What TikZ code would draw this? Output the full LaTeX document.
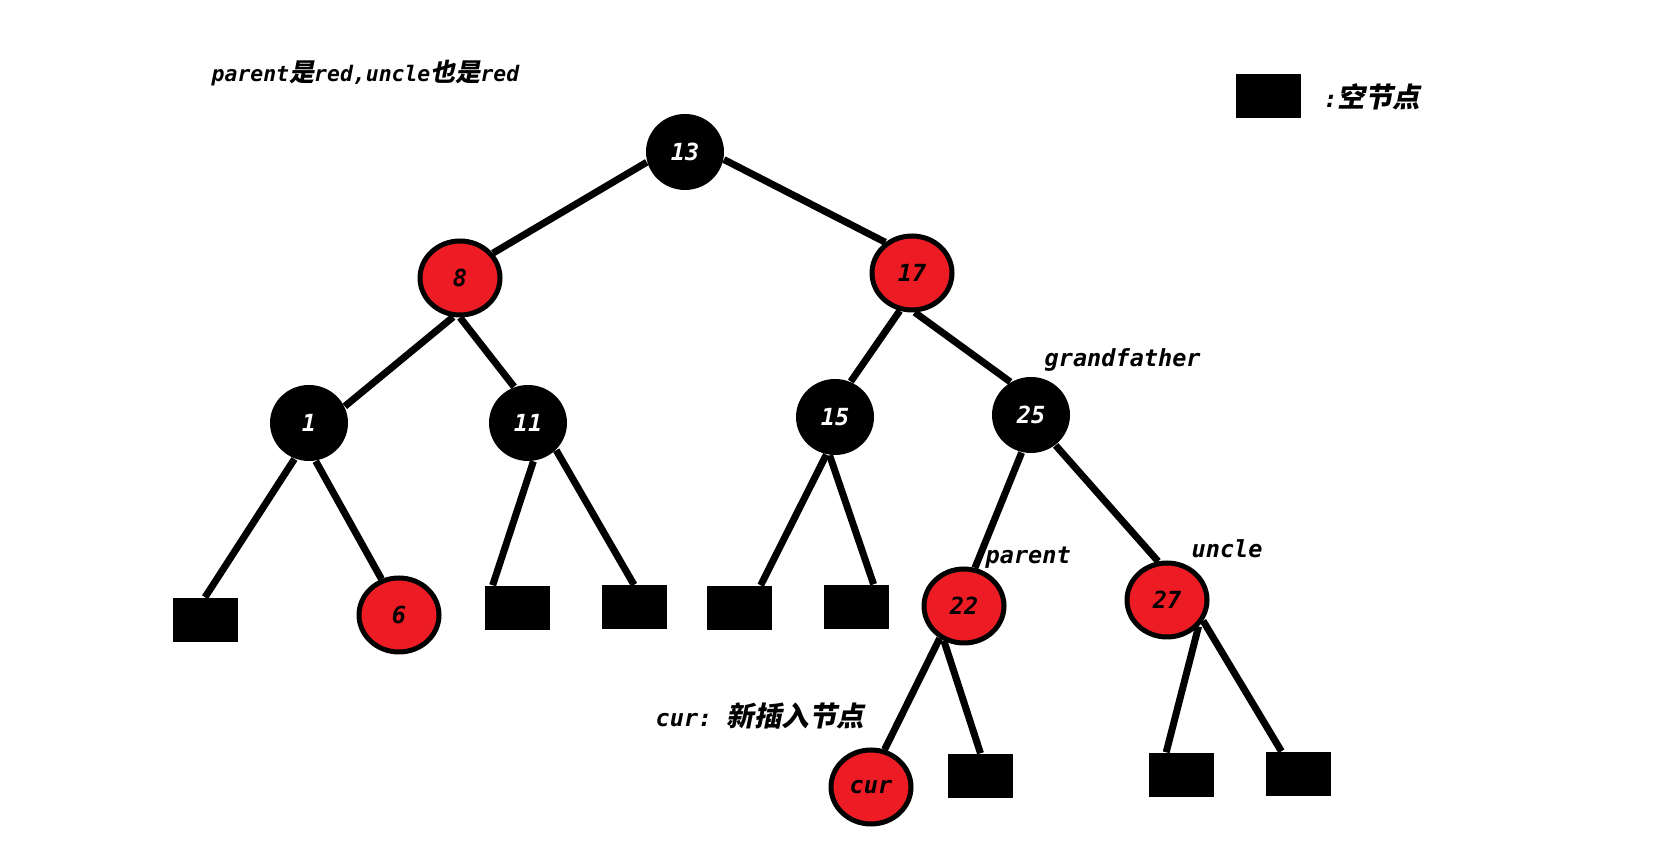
\documentclass[tikz,border=0pt]{standalone}
\usepackage{fontspec}
\usepackage{tikz}
\usetikzlibrary{shapes.geometric}
\setmonofont{DejaVu Sans Mono}
\newfontfamily\cjk[FakeSlant=0.2,Scale=1.17]{Noto Sans CJK SC}
\newcommand{\zh}[1]{{\cjk\bfseries #1}}
\definecolor{paintred}{HTML}{ED1C24}

\begin{document}
\begin{tikzpicture}[scale=1,
    txt/.style={font=\ttfamily\bfseries\itshape\fontsize{6.7}{8}\selectfont, inner sep=0pt},
    blacknode/.style={ellipse, fill=black, text=white, minimum width=0.78cm, minimum height=0.76cm, txt},
    rednode/.style={ellipse, draw=black, line width=0.05cm, fill=paintred, minimum width=0.80cm, minimum height=0.74cm, txt},
    leaf/.style={rectangle, fill=black, minimum width=0.65cm, minimum height=0.44cm, inner sep=0pt},
    edge/.style={line width=0.07cm}]
    \useasboundingbox (0,0) rectangle (16.68,-8.61);
    \node[txt, anchor=west, font=\ttfamily\bfseries\itshape\fontsize{6.1}{7}\selectfont] (title) at (2.11,-0.73) {parent\zh{是}red,uncle\zh{也是}red};
    \node[leaf] (key) at (12.685,-0.96) {};
    \node[txt, anchor=west] (keytext) at (13.23,-0.97) {:\zh{空节点}};
    \node[blacknode] (n13) at (6.85,-1.52) {13};
    \node[rednode] (n8) at (4.60,-2.78) {8};
    \node[rednode] (n17) at (9.12,-2.73) {17};
    \node[blacknode] (n1) at (3.09,-4.23) {1};
    \node[blacknode] (n11) at (5.28,-4.23) {11};
    \node[blacknode] (n15) at (8.35,-4.17) {15};
    \node[blacknode] (n25) at (10.31,-4.15) {25};
    \node[rednode] (n6) at (3.99,-6.15) {6};
    \node[rednode] (n22) at (9.64,-6.06) {22};
    \node[rednode] (n27) at (11.67,-6.00) {27};
    \node[rednode] (cur) at (8.71,-7.87) {cur};
    \node[leaf] (l1) at (2.05,-6.20) {};
    \node[leaf] (l2) at (5.17,-6.08) {};
    \node[leaf] (l3) at (6.34,-6.075) {};
    \node[leaf] (l4) at (7.395,-6.08) {};
    \node[leaf] (l5) at (8.565,-6.07) {};
    \node[leaf] (l6) at (9.805,-7.76) {};
    \node[leaf] (l7) at (11.815,-7.75) {};
    \node[leaf] (l8) at (12.985,-7.74) {};
    \node[txt, anchor=west] (gf) at (10.44,-3.60) {grandfather};
    \node[txt, anchor=west] (par) at (9.85,-5.58) {parent};
    \node[txt, anchor=west] (unc) at (11.91,-5.49) {uncle};
    \node[txt, anchor=west] (curtext) at (6.55,-7.16) {cur: \zh{新插入节点}};
    \draw[edge] (n13.195) -- (n8.37);
    \draw[edge] (n13.349) -- (n17.131);
    \draw[edge] (n8.260) -- (n1.25);
    \draw[edge] (n8.270) -- (n11.111);
    \draw[edge] (n17.252) -- (n15.66);
    \draw[edge] (n17.274) -- (n25.122);
    \draw[edge] (n1.248) -- (l1.north);
    \draw[edge] (n1.280) -- (n6.116);
    \draw[edge] (n11.278) -- (l2.137);
    \draw[edge] (n11.316) -- (l3.north);
    \draw[edge] (n15.257) -- (l4.47);
    \draw[edge] (n15.262) -- (l5.53);
    \draw[edge] (n25.256) -- (n22.74);
    \draw[edge] (n25.309) -- (n27.103);
    \draw[edge] (n22.233) -- (cur.70);
    \draw[edge] (n22.240) -- (l6.north);
    \draw[edge] (n27.320) -- (l7.124);
    \draw[edge] (n27.330) -- (l8.127);
\end{tikzpicture}
\end{document}
